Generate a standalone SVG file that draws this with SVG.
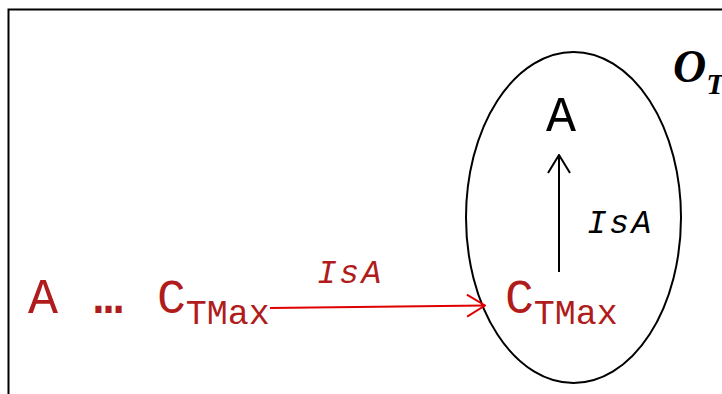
<svg xmlns="http://www.w3.org/2000/svg" width="722" height="394" viewBox="0 0 722 394">
<style>
.mono{font-family:"Liberation Mono","Courier New",monospace}
.red{fill:#b01c1c}
.blk{fill:#000}
.lbl{font-size:33px;font-style:italic;letter-spacing:2.5px}
</style>
<defs>
<marker id="ab" viewBox="0 0 20 24" refX="19" refY="12" markerWidth="20" markerHeight="24" markerUnits="userSpaceOnUse" orient="auto">
<path d="M1 1 L19 12 L1 23" fill="none" stroke="#000" stroke-width="2"/>
</marker>
<marker id="ar" viewBox="0 0 20 24" refX="19" refY="12" markerWidth="20" markerHeight="24" markerUnits="userSpaceOnUse" orient="auto">
<path d="M1 1 L19 12 L1 23" fill="none" stroke="#e00000" stroke-width="2"/>
</marker>
</defs>
<rect x="0" y="0" width="722" height="394" fill="#fff"/>
<rect x="8.5" y="9.5" width="730" height="400" fill="none" stroke="#000" stroke-width="2"/>
<g id="ontology">
<ellipse cx="573.5" cy="217.5" rx="107.5" ry="165.5" fill="none" stroke="#000" stroke-width="2"/>
<text x="673" y="82" font-family="Liberation Serif,Times New Roman,serif" font-style="italic" font-weight="bold" font-size="46">O<tspan font-size="30" dy="12">T</tspan></text>
</g>
<g id="node-A-inner"><text class="mono blk" x="546" y="131" font-size="50">A</text></g>
<g id="node-C-inner"><text class="mono red" x="505" y="313" font-size="48">C<tspan font-size="35" dy="11">TMax</tspan></text></g>
<g id="node-A-left"><text class="mono red" x="28" y="313" font-size="50">A</text></g>
<g id="node-dots"><text class="mono red" x="94" y="313" font-size="48" font-weight="bold">…</text></g>
<g id="node-C-left"><text class="mono red" x="157" y="313" font-size="48">C<tspan font-size="35" dy="11">TMax</tspan></text></g>
<g id="connectors">
<line x1="270" y1="308" x2="485" y2="305.5" stroke="#e00000" stroke-width="2" marker-end="url(#ar)"/>
<line x1="559" y1="272" x2="559" y2="155" stroke="#000" stroke-width="2" marker-end="url(#ab)"/>
<text class="mono blk lbl" x="587" y="233">IsA</text>
<text class="mono red lbl" x="317" y="283">IsA</text>
</g>
</svg>
